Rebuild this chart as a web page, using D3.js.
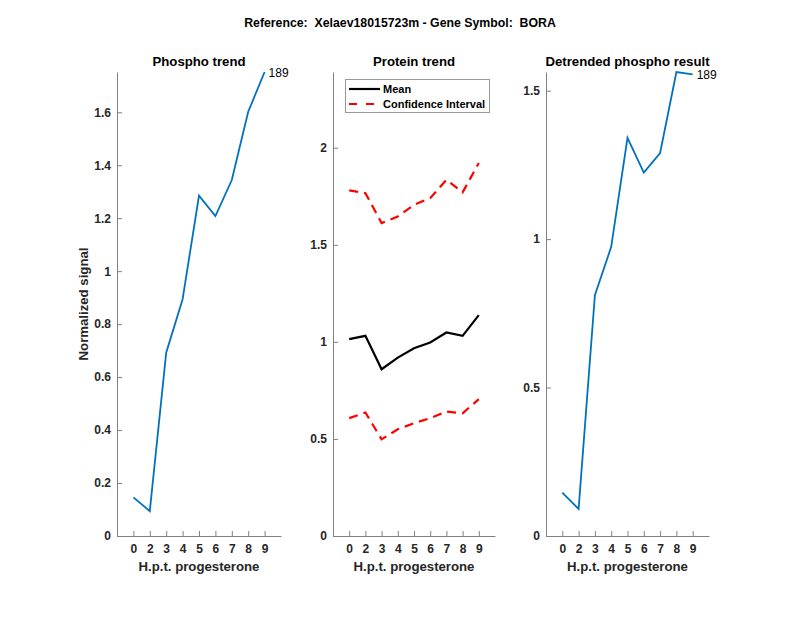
<!DOCTYPE html>
<html><head><meta charset="utf-8">
<script src="https://cdn.jsdelivr.net/npm/d3@7"></script>
<style>body{margin:0;background:#fff}svg{display:block}text{font-family:"Liberation Sans",Arial,Helvetica,sans-serif;white-space:pre}</style>
</head><body><svg id="c" width="800" height="618"></svg>
<script>
const timeLabels = ["0","2","3","4","5","6","7","8","9"];
const phospho = [0.146,0.094,0.692,0.894,1.285,1.208,1.344,1.602,1.752];
const proteinMean = [1.014,1.031,0.859,0.919,0.967,0.997,1.048,1.031,1.138];
const proteinUpper = [1.780,1.766,1.612,1.646,1.706,1.740,1.835,1.770,1.921];
const proteinLower = [0.607,0.636,0.498,0.550,0.581,0.607,0.641,0.632,0.705];
const detrended = [0.146,0.091,0.811,0.974,1.341,1.224,1.290,1.563,1.555];
const peptideLabel = "189";

const svg = d3.select("#c");
const txt = "#262626", axc = "#808080";

svg.append("text").attr("x",400).attr("y",27).attr("text-anchor","middle")
  .attr("font-size",12.3).attr("font-weight","bold").attr("fill","#000")
  .attr("xml:space","preserve")
  .text("Reference:  Xelaev18015723m - Gene Symbol:  BORA");

function panel(cfg){
  const top=72, bottom=536;
  const g = svg.append("g");
  const x = d3.scaleLinear().domain([0,10]).range([cfg.left, cfg.right]);
  const y = d3.scaleLinear().domain([0,cfg.ymax]).range([bottom, top]);
  const xa = d3.axisBottom(x).tickValues(d3.range(1,10)).tickFormat((d,i)=>timeLabels[i]).tickSizeInner(-5).tickSizeOuter(0).tickPadding(8);
  const ya = d3.axisLeft(y).tickValues(cfg.yticks).tickFormat(d=>d3.format("")(d)).tickSizeInner(-5).tickSizeOuter(0).tickPadding(6);
  const gx = g.append("g").attr("transform",`translate(0,${bottom})`).call(xa);
  const gy = g.append("g").attr("transform",`translate(${cfg.left},0)`).call(ya);
  [gx,gy].forEach(a=>{
    a.select(".domain").attr("stroke",axc).attr("stroke-width",1);
    a.selectAll(".tick line").attr("stroke",axc);
    a.selectAll(".tick text").attr("fill",txt).attr("font-size",12).attr("font-weight","bold").attr("font-family","Liberation Sans, Arial, sans-serif");
  });
  g.append("text").attr("x",(cfg.left+cfg.right)/2).attr("y",571).attr("text-anchor","middle")
    .attr("font-size",13.2).attr("font-weight","bold").attr("fill",txt).text("H.p.t. progesterone");
  g.append("text").attr("x",(cfg.left+cfg.right)/2).attr("y",66).attr("text-anchor","middle")
    .attr("font-size",13.2).attr("font-weight","bold").attr("fill","#000").text(cfg.title);
  const line = d3.line().x((d,i)=>x(i+1)).y(d=>y(d));
  cfg.series.forEach(s=>{
    g.append("path").datum(s.data).attr("d",line).attr("fill","none")
      .attr("stroke",s.color).attr("stroke-width",s.width||1.8)
      .attr("stroke-dasharray",s.dash||null).attr("stroke-linejoin","miter");
  });
  if(cfg.label){
    const d = cfg.series[0].data;
    g.append("text").attr("x",x(9)+4).attr("y",y(d[8])+5).attr("font-size",12)
      .attr("fill","#000").text(peptideLabel);
  }
  return {g,x,y};
}

panel({left:117,right:281,ymax:1.752,yticks:[0,0.2,0.4,0.6,0.8,1,1.2,1.4,1.6],
  title:"Phospho trend",label:true,series:[{data:phospho,color:"#0072BD"}]});
panel({left:333,right:495,ymax:2.39,yticks:[0,0.5,1,1.5,2],
  title:"Protein trend",series:[
    {data:proteinMean,color:"#000",width:2.2},
    {data:proteinUpper,color:"#ff0000",width:2.2,dash:"9,6"},
    {data:proteinLower,color:"#ff0000",width:2.2,dash:"9,6"}]});
panel({left:546,right:709,ymax:1.563,yticks:[0,0.5,1,1.5],
  title:"Detrended phospho result",label:true,series:[{data:detrended,color:"#0072BD"}]});

svg.append("text").attr("transform","translate(88,304) rotate(-90)").attr("text-anchor","middle")
  .attr("font-size",13.2).attr("font-weight","bold").attr("fill",txt).text("Normalized signal");

const lg = svg.append("g");
lg.append("rect").attr("x",345.5).attr("y",79.5).attr("width",144).attr("height",33)
  .attr("fill","#fff").attr("stroke","#999").attr("stroke-width",1);
const items=[{t:"Mean",c:"#000",dash:null,x2:380},{t:"Confidence Interval",c:"#ff0000",dash:"8,9",x2:375}];
items.forEach((it,i)=>{
  const yy=89+i*15;
  lg.append("line").attr("x1",349).attr("x2",it.x2).attr("y1",yy).attr("y2",yy)
    .attr("stroke",it.c).attr("stroke-width",2.2).attr("stroke-dasharray",it.dash);
  lg.append("text").attr("x",383).attr("y",yy+4).attr("font-size",11).attr("font-weight","bold")
    .attr("fill","#000").text(it.t);
});
</script></body></html>
